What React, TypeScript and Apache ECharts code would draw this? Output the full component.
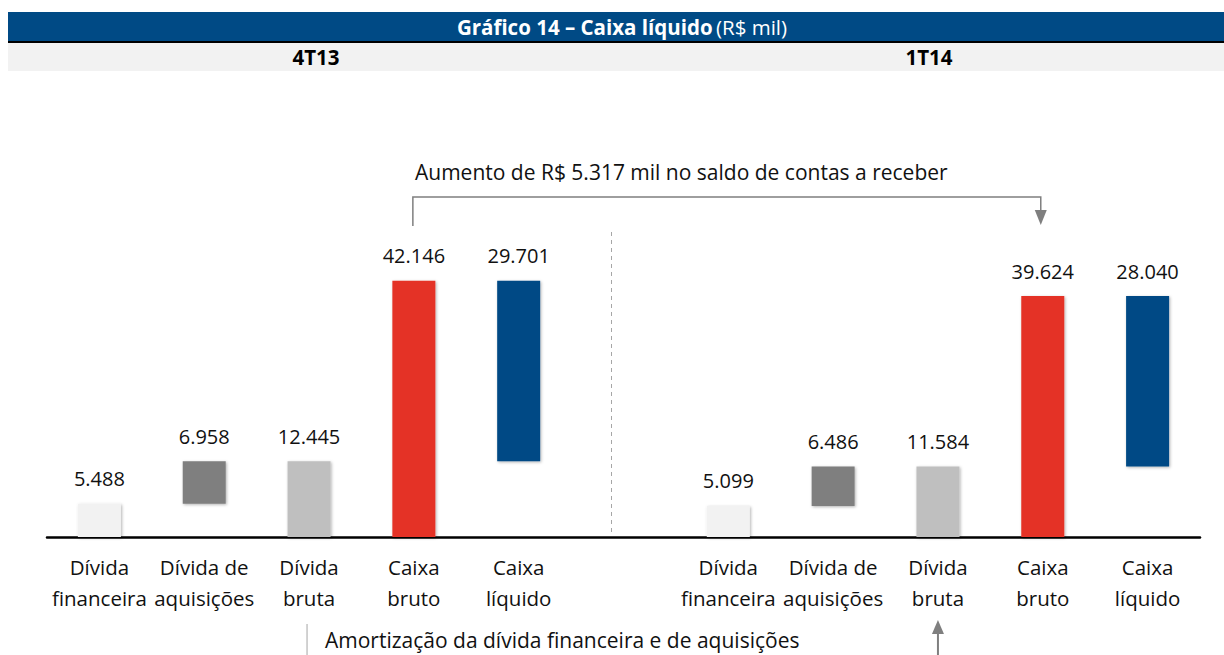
import React, { useEffect, useRef } from "react";
import * as echarts from "echarts";

const categories = [
  "Dívida\nfinanceira", "Dívida de\naquisições", "Dívida\nbruta", "Caixa\nbruto", "Caixa\nlíquido",
  "",
  "Dívida\nfinanceira", "Dívida de\naquisições", "Dívida\nbruta", "Caixa\nbruto", "Caixa\nlíquido",
];
const values = [5488, 6958, 12445, 42146, 29701, null, 5099, 6486, 11584, 39624, 28040];
const offsets = [0, 5488, 0, 0, 12445, null, 0, 5099, 0, 0, 11584];
const barColors = ["#f2f2f2", "#7f7f7f", "#bfbfbf", "#e43326", "#004a85", "#fff", "#f2f2f2", "#7f7f7f", "#bfbfbf", "#e43326", "#004a85"];
const periods = ["4T13", "1T14"];
const titleBold = "Gráfico 14 – Caixa líquido";
const titleUnit = "(R$ mil)";
const noteTop = "Aumento de R$ 5.317 mil no saldo de contas a receber";
const noteBottom = "Amortização da dívida financeira e de aquisições";

const FONT = "'Open Sans', sans-serif";

function fmt(v: number) {
  return String(v).replace(/\B(?=(\d{3})+(?!\d))/g, ".");
}

export default function App() {
  const ref = useRef<HTMLDivElement>(null);
  useEffect(() => {
    if (!ref.current) return;
    const chart = echarts.init(ref.current, undefined, { renderer: "svg" });
    chart.setOption({
      animation: false,
      backgroundColor: "#ffffff",
      grid: { left: 47, right: 24, top: 233, bottom: 118 },
      xAxis: {
        type: "category",
        data: categories,
        axisLine: { lineStyle: { color: "#000", width: 2.5 } },
        axisTick: { show: false },
        axisLabel: {
          interval: 0,
          color: "#111",
          fontFamily: FONT,
          fontSize: 20.5,
          lineHeight: 31,
          margin: 14,
        },
      },
      yAxis: { type: "value", min: 0, max: 50000, show: false, splitLine: { show: false } },
      series: [
        {
          type: "bar",
          stack: "w",
          data: offsets,
          itemStyle: { color: "transparent" },
          barWidth: 43,
          silent: true,
        },
        {
          type: "bar",
          stack: "w",
          barWidth: 43,
          data: values.map((v, i) =>
            v == null ? null : { value: v, itemStyle: { color: barColors[i] } }
          ),
          itemStyle: {
            shadowBlur: 3,
            shadowColor: "rgba(0,0,0,0.3)",
            shadowOffsetX: 1,
            shadowOffsetY: 1,
          },
          label: {
            show: true,
            position: "top",
            distance: 15,
            color: "#111",
            fontFamily: FONT,
            fontSize: 20,
            formatter: (p: any) => fmt(p.value),
          },
        },
      ],
    });

    const px = (i: number) => chart.convertToPixel({ xAxisIndex: 0 }, i) as number;
    const xCB1 = px(3);
    const xCB2 = px(9);
    const xDB1 = px(2);
    const xDB2 = px(8);
    const xDiv = (px(4) + px(6)) / 2 - 12;
    const W = 1224;
    const gray = "#7f7f7f";

    chart.setOption({
      graphic: [
        { type: "rect", shape: { x: 8, y: 12, width: W - 8, height: 29 }, style: { fill: "#004a85" } },
        { type: "rect", shape: { x: 8, y: 41, width: W - 8, height: 2 }, style: { fill: "#000" } },
        { type: "rect", shape: { x: 8, y: 43, width: W - 8, height: 28 }, style: { fill: "#f2f2f2" } },
        {
          type: "text",
          x: 622,
          y: 27,
          style: {
            text: `{b|${titleBold}} {n|${titleUnit}}`,
            align: "center",
            verticalAlign: "middle",
            fill: "#fff",
            rich: {
              b: { fontFamily: FONT, fontSize: 20.5, fontWeight: "bold", fill: "#fff" },
              n: { fontFamily: FONT, fontSize: 20.5, fill: "#fff" },
            },
          },
        },
        {
          type: "text",
          x: 316,
          y: 57,
          style: { text: periods[0], align: "center", verticalAlign: "middle", fontFamily: FONT, fontSize: 20.5, fontWeight: "bold", fill: "#000" },
        },
        {
          type: "text",
          x: 929,
          y: 57,
          style: { text: periods[1], align: "center", verticalAlign: "middle", fontFamily: FONT, fontSize: 20.5, fontWeight: "bold", fill: "#000" },
        },
        {
          type: "line",
          shape: { x1: xDiv, y1: 232, x2: xDiv, y2: 534 },
          style: { stroke: "#a6a6a6", lineWidth: 1, lineDash: [4, 4] },
        },
        {
          type: "text",
          x: 415,
          y: 172,
          style: { text: noteTop, align: "left", verticalAlign: "middle", fontFamily: FONT, fontSize: 21, fill: "#111" },
        },
        {
          type: "polyline",
          shape: { points: [[xCB1 - 1, 226], [xCB1 - 1, 197], [xCB2 - 2, 197], [xCB2 - 2, 211]] },
          style: { stroke: gray, lineWidth: 1.5, fill: "none" },
        },
        {
          type: "polygon",
          shape: { points: [[xCB2 - 8, 210], [xCB2 + 4, 210], [xCB2 - 2, 225]] },
          style: { fill: gray },
        },
        {
          type: "line",
          shape: { x1: xDB1 - 2, y1: 624, x2: xDB1 - 2, y2: 655 },
          style: { stroke: "#a6a6a6", lineWidth: 1 },
        },
        {
          type: "text",
          x: 325,
          y: 640,
          style: { text: noteBottom, align: "left", verticalAlign: "middle", fontFamily: FONT, fontSize: 21, fill: "#111" },
        },
        {
          type: "line",
          shape: { x1: xDB2, y1: 633, x2: xDB2, y2: 655 },
          style: { stroke: gray, lineWidth: 2 },
        },
        {
          type: "polygon",
          shape: { points: [[xDB2 - 6, 634], [xDB2 + 6, 634], [xDB2, 620]] },
          style: { fill: gray },
        },
      ],
    });

    return () => chart.dispose();
  }, []);
  return <div ref={ref} style={{ width: 1224, height: 655, position: "absolute", left: 0, top: 0 }} />;
}
